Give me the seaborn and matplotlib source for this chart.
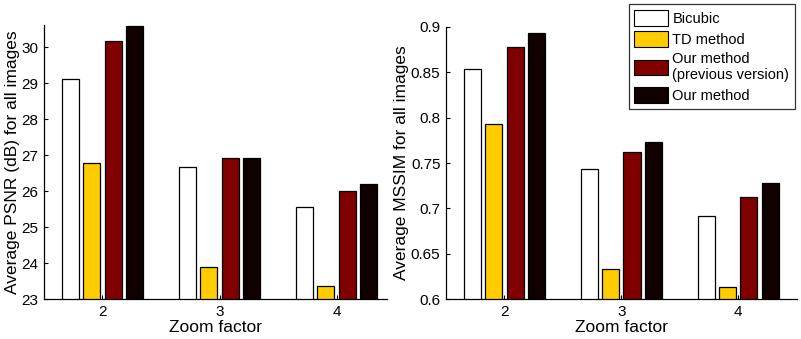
import matplotlib
matplotlib.use("Agg")
import matplotlib.pyplot as plt
import seaborn as sns
import pandas as pd
from matplotlib.patches import Patch

sns.set_style("ticks")
plt.rcParams['font.family'] = ['Liberation Sans', 'DejaVu Sans']
for k in ["text.color", "axes.labelcolor", "xtick.color", "ytick.color", "axes.edgecolor"]:
    plt.rcParams[k] = "black"

zoom = ["2", "3", "4"]
methods = ["Bicubic", "TD method", "Our method\n(previous version)", "Our method"]
psnr_bicubic = [29.11, 26.67, 25.56]
psnr_td = [26.78, 23.89, 23.36]
psnr_prev = [30.17, 26.94, 26.00]
psnr_ours = [30.60, 26.92, 26.20]
mssim_bicubic = [0.853, 0.743, 0.692]
mssim_td = [0.793, 0.633, 0.614]
mssim_prev = [0.878, 0.762, 0.713]
mssim_ours = [0.893, 0.773, 0.728]
colors = ["#FFFFFF", "#FFCC00", "#800000", "#100000"]

def make_df(series):
    rows = []
    for m, vals in zip(methods, series):
        for z, v in zip(zoom, vals):
            rows.append({"zoom": z, "method": m, "value": v})
    return pd.DataFrame(rows)

df_psnr = make_df([psnr_bicubic, psnr_td, psnr_prev, psnr_ours])
df_mssim = make_df([mssim_bicubic, mssim_td, mssim_prev, mssim_ours])
palette = dict(zip(methods, colors))

fig = plt.figure(figsize=(8.01, 3.39), dpi=100)
ax1 = fig.add_axes([0.0549, 0.1171, 0.4281, 0.8079])
ax2 = fig.add_axes([0.5568, 0.1171, 0.4378, 0.8039])

for ax, df in [(ax1, df_psnr), (ax2, df_mssim)]:
    sns.barplot(data=df, x="zoom", y="value", hue="method", order=zoom,
                hue_order=methods, palette=palette, width=0.73, gap=0.2,
                saturation=1, edgecolor="black", linewidth=0.9, ax=ax,
                legend=False)
    ax.set_xlabel("Zoom factor", fontsize=12.5, labelpad=1)
    ax.tick_params(direction="in", length=3, labelsize=11, pad=4, width=0.8)
    for s in ["top", "right"]:
        ax.spines[s].set_visible(False)
    for s in ["left", "bottom"]:
        ax.spines[s].set_linewidth(0.9)

ax1.set_ylim(23, 30.61)
ax1.set_xlim(-0.5, 2.43)
ax1.set_yticks([23, 24, 25, 26, 27, 28, 29, 30])
ax1.set_ylabel("Average PSNR (dB) for all images", fontsize=12.5, labelpad=1)

ax2.set_ylim(0.6, 0.9)
ax2.set_xlim(-0.5, 2.5)
ax2.set_yticks([0.6, 0.65, 0.7, 0.75, 0.8, 0.85, 0.9])
ax2.set_yticklabels(["0.6", "0.65", "0.7", "0.75", "0.8", "0.85", "0.9"])
ax2.set_ylabel("Average MSSIM for all images", fontsize=12.5, labelpad=1)

handles = [Patch(facecolor=c, edgecolor="black", linewidth=0.8) for c in colors]
leg = fig.legend(handles, methods, loc="upper right",
                 bbox_to_anchor=(795 / 801, 1 - 4 / 339), fontsize=10.5,
                 frameon=True, fancybox=False, handlelength=2.3,
                 handleheight=1.3, handletextpad=0.3, borderpad=0.4,
                 labelspacing=0.35, borderaxespad=0)
leg.get_frame().set_edgecolor("black")
leg.get_frame().set_linewidth(0.9)

fig.savefig("out.png", dpi=100)
